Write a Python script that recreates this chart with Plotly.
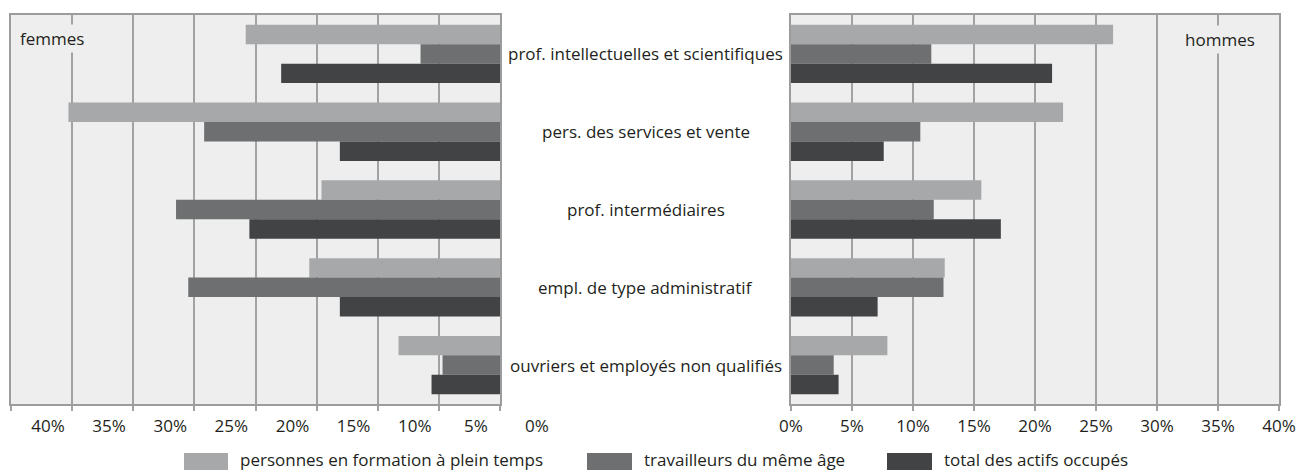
import plotly.graph_objects as go

categories = [
    "prof. intellectuelles et scientifiques",
    "pers. des services et vente",
    "prof. intermédiaires",
    "empl. de type administratif",
    "ouvriers et employés non qualifiés",
]
series_names = [
    "personnes en formation à plein temps",
    "travailleurs du même âge",
    "total des actifs occupés",
]
femmes_formation = [20.8, 35.3, 14.6, 15.6, 8.3]
femmes_travailleurs = [6.5, 24.2, 26.5, 25.5, 4.7]
femmes_total = [17.9, 13.1, 20.5, 13.1, 5.6]
hommes_formation = [26.4, 22.3, 15.6, 12.6, 7.9]
hommes_travailleurs = [11.5, 10.6, 11.7, 12.5, 3.5]
hommes_total = [21.4, 7.6, 17.2, 7.1, 3.9]
tick_values = [0, 5, 10, 15, 20, 25, 30, 35, 40]

colors = ["#a7a8aa", "#6e6f71", "#424345"]
plot_bg = "#edeeed"
grid_c = "#a2a2a2"
border_c = "#9c9c9c"
text_c = "#231f20"
FONT = "Open Sans"

W, H = 1297, 471
fig = go.Figure()

femmes = [femmes_formation, femmes_travailleurs, femmes_total]
hommes = [hommes_formation, hommes_travailleurs, hommes_total]

for name, vals, col in zip(series_names, femmes, colors):
    fig.add_trace(go.Bar(
        y=categories, x=[-v for v in vals], orientation="h",
        marker=dict(color=col, line=dict(width=0)), name=name,
        xaxis="x", yaxis="y", showlegend=False,
        customdata=vals, hovertemplate="%{y}: %{customdata}%<extra>" + name + "</extra>",
    ))
for name, vals, col in zip(series_names, hommes, colors):
    fig.add_trace(go.Bar(
        y=categories, x=vals, orientation="h",
        marker=dict(color=col, line=dict(width=0)), name=name,
        xaxis="x2", yaxis="y2", showlegend=False,
        hovertemplate="%{y}: %{x}%<extra>" + name + "</extra>",
    ))

y0 = 1 - 404 / H
y1 = 1 - 15 / H
lx0, lx1 = 11 / W, 500 / W
rx0, rx1 = 791 / W, 1279 / W

xcommon = dict(
    showgrid=True, gridcolor=grid_c, gridwidth=1.5,
    showline=True, linecolor=border_c, linewidth=2, mirror=True,
    ticks="outside", ticklen=5, tickcolor=grid_c, tickwidth=1.5,
    tickfont=dict(family=FONT, size=17, color=text_c),
    zeroline=False, fixedrange=True, ticklabelstandoff=1, automargin=False,
)
ycommon = dict(
    type="category", categoryorder="array", categoryarray=categories,
    autorange="reversed", showticklabels=False, ticks="",
    showgrid=False, showline=True, linecolor=border_c, linewidth=2, mirror=True,
    domain=[y0, y1], fixedrange=True, automargin=False,
)

fig.update_layout(
    width=W, height=H,
    margin=dict(l=0, r=0, t=0, b=0),
    paper_bgcolor="white", plot_bgcolor=plot_bg,
    barmode="group", bargap=0.25, bargroupgap=0,
    font=dict(family=FONT, size=17, color=text_c),
    xaxis=dict(domain=[lx0, lx1], range=[-40, 0], anchor="y",
               tickvals=[-v for v in tick_values],
               ticktext=[f"{v}%" for v in tick_values],
               ticklabelshift=37, **xcommon),
    xaxis2=dict(domain=[rx0, rx1], range=[0, 40], anchor="y2",
                tickvals=tick_values,
                ticktext=[f"{v}%" for v in tick_values], **xcommon),
    yaxis=dict(anchor="x", **ycommon),
    yaxis2=dict(anchor="x2", **ycommon),
    showlegend=False,
)

annotations = []
annotations.append(dict(text="femmes", xref="x domain", yref="y domain",
                        x=(17 - 11) / 489, y=(404 - 38) / 389, xanchor="left", yanchor="middle",
                        showarrow=False, bgcolor=plot_bg, borderpad=2,
                        font=dict(family=FONT, size=17, color=text_c)))
annotations.append(dict(text="hommes", xref="x2 domain", yref="y2 domain",
                        x=(1258 - 791) / 488, y=(404 - 39) / 389, xanchor="right", yanchor="middle",
                        showarrow=False, bgcolor=plot_bg, borderpad=2,
                        font=dict(family=FONT, size=17, color=text_c)))
for c in categories:
    annotations.append(dict(text=c, xref="paper", yref="y", x=645.5 / W, y=c,
                            xanchor="center", yanchor="middle", showarrow=False,
                            font=dict(family=FONT, size=17, color=text_c)))

# legend (swatches + labels)
sw = [(184, 228), (587, 632), (887, 932)]
tx = [239, 643, 943]
shapes = []
for (a, b), t, col, name in zip(sw, tx, colors, series_names):
    shapes.append(dict(type="rect", xref="paper", yref="paper",
                       x0=a / W, x1=b / W, y0=1 - 470 / H, y1=1 - 453 / H,
                       fillcolor=col, line=dict(width=0)))
    annotations.append(dict(text=name, xref="paper", yref="paper", x=t / W, y=1 - 459.5 / H,
                            xanchor="left", yanchor="middle", showarrow=False, borderpad=0,
                            font=dict(family=FONT, size=17, color=text_c)))

fig.update_layout(annotations=annotations, shapes=shapes)
fig.write_html(
    "out.html",
    config={"displayModeBar": False},
    post_script="document.body.style.margin='0px';document.body.style.overflow='hidden';",
)
